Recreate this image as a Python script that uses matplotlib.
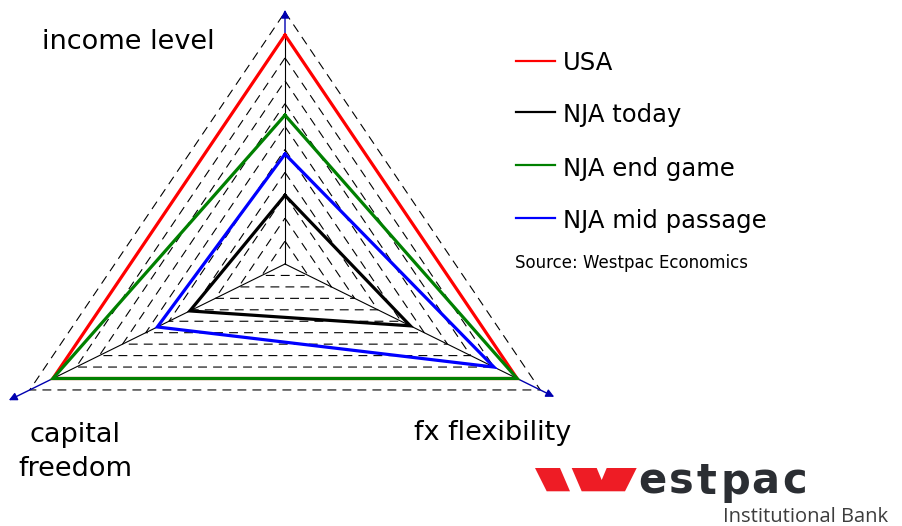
import numpy as np
import matplotlib
matplotlib.use("Agg")
import matplotlib.pyplot as plt
from matplotlib.patches import Polygon

# ---------------- data ----------------
axis_labels = ["income level", "fx flexibility", "capital freedom"]
axis_angles_deg = [90, -30, 210]
series_names = ["USA", "NJA today", "NJA end game", "NJA mid passage"]
usa = [1.0, 1.0, 1.0]
nja_today = [0.30, 0.54, 0.41]
nja_end_game = [0.65, 1.0, 1.0]
nja_mid_passage = [0.48, 0.90, 0.55]
series_colors = ["#ff0000", "#000000", "#008000", "#0000ff"]
grid_levels = [0.1, 0.2, 0.3, 0.4, 0.5, 0.6, 0.7, 0.8, 0.9, 1.0, 1.1]
arrow_lengths = [1.11, 1.16, 1.19]
source_text = "Source: Westpac Economics"

W, H = 902, 526
fig = plt.figure(figsize=(W / 100, H / 100), dpi=100)

# radar axes: pixel x = 285 + 268*X ; pixel y = 264 - 229*Y
ax = fig.add_axes([0, 0, 1, 1])
ax.set_xlim(-285 / 268, (W - 285) / 268)
ax.set_ylim((264 - H) / 229, 264 / 229)
ax.axis("off")

ang = np.deg2rad(axis_angles_deg)
ux, uy = np.cos(ang), np.sin(ang)

def pts(vals):
    v = np.asarray(vals)
    x = v * ux
    y = v * uy
    return np.append(x, x[0]), np.append(y, y[0])

# dashed grid triangles
for lv in grid_levels:
    x, y = pts([lv] * 3)
    ax.plot(x, y, color="black", lw=0.8, linestyle=(0, (8.0, 5.5)), zorder=1)

# axes: black inside, blue arrow outside
for i in range(3):
    ax.plot([0, ux[i]], [0, uy[i]], color="black", lw=0.8, zorder=2)
    L = arrow_lengths[i]
    ax.annotate("", xy=(L * ux[i], L * uy[i]), xytext=(ux[i], uy[i]),
                arrowprops=dict(arrowstyle="-|>", color="#0000b0", lw=1.0,
                                mutation_scale=12, shrinkA=0, shrinkB=0),
                zorder=3)

all_series = [usa, nja_today, nja_end_game, nja_mid_passage]
for vals, c in zip(all_series, series_colors):
    x, y = pts(vals)
    ax.plot(x, y, color=c, lw=2.3, solid_joinstyle="miter", zorder=4)

# overlay axes in pixel coordinates for labels, legend, logo
ov = fig.add_axes([0, 0, 1, 1])
ov.set_xlim(0, W)
ov.set_ylim(H, 0)
ov.axis("off")
ov.patch.set_alpha(0)

font = "DejaVu Sans"
ov.text(128, 49, axis_labels[0], fontsize=19.5, family=font, ha="center", va="baseline")
ov.text(493, 439.5, axis_labels[1], fontsize=19.5, family=font, ha="center", va="baseline")
ov.text(75, 442.5, "capital", fontsize=19.5, family=font, ha="center", va="baseline")
ov.text(75, 476.5, "freedom", fontsize=19.5, family=font, ha="center", va="baseline")

# legend
leg_line_y = [60.7, 111.7, 165, 217.7]
leg_base_y = [70, 122, 175.7, 228.3]
for name, c, ly, by in zip(series_names, series_colors, leg_line_y, leg_base_y):
    ov.plot([516, 555], [ly, ly], color=c, lw=1.6)
    ov.text(563, by, name, fontsize=17.5, family=font, ha="left", va="baseline")
ov.text(515, 268, source_text, fontsize=12, family=font, ha="left", va="baseline")

# Westpac logo
red = "#ee1c25"
ov.add_patch(Polygon([(535, 468), (560, 468), (570, 491.3), (546.7, 491.3)],
                     closed=True, color=red, lw=0))
ov.add_patch(Polygon([(571.7, 468), (596.7, 468), (601.7, 480), (606.7, 468),
                      (636.7, 468), (625, 491.3), (581.7, 491.3)],
                     closed=True, color=red, lw=0))
letters = "estpac"
centers = [652, 681.5, 706, 735, 765.5, 794.5]
for ch, cx in zip(letters, centers):
    ov.text(cx, 494, ch, fontsize=30, family="DejaVu Sans", weight="bold", color="#2b2e33",
            ha="center", va="baseline")
ov.text(806, 522, "Institutional Bank", fontsize=14.5, family="Open Sans",
        color="#3d3d3d", ha="center", va="baseline")

fig.savefig("out.png", dpi=100)
